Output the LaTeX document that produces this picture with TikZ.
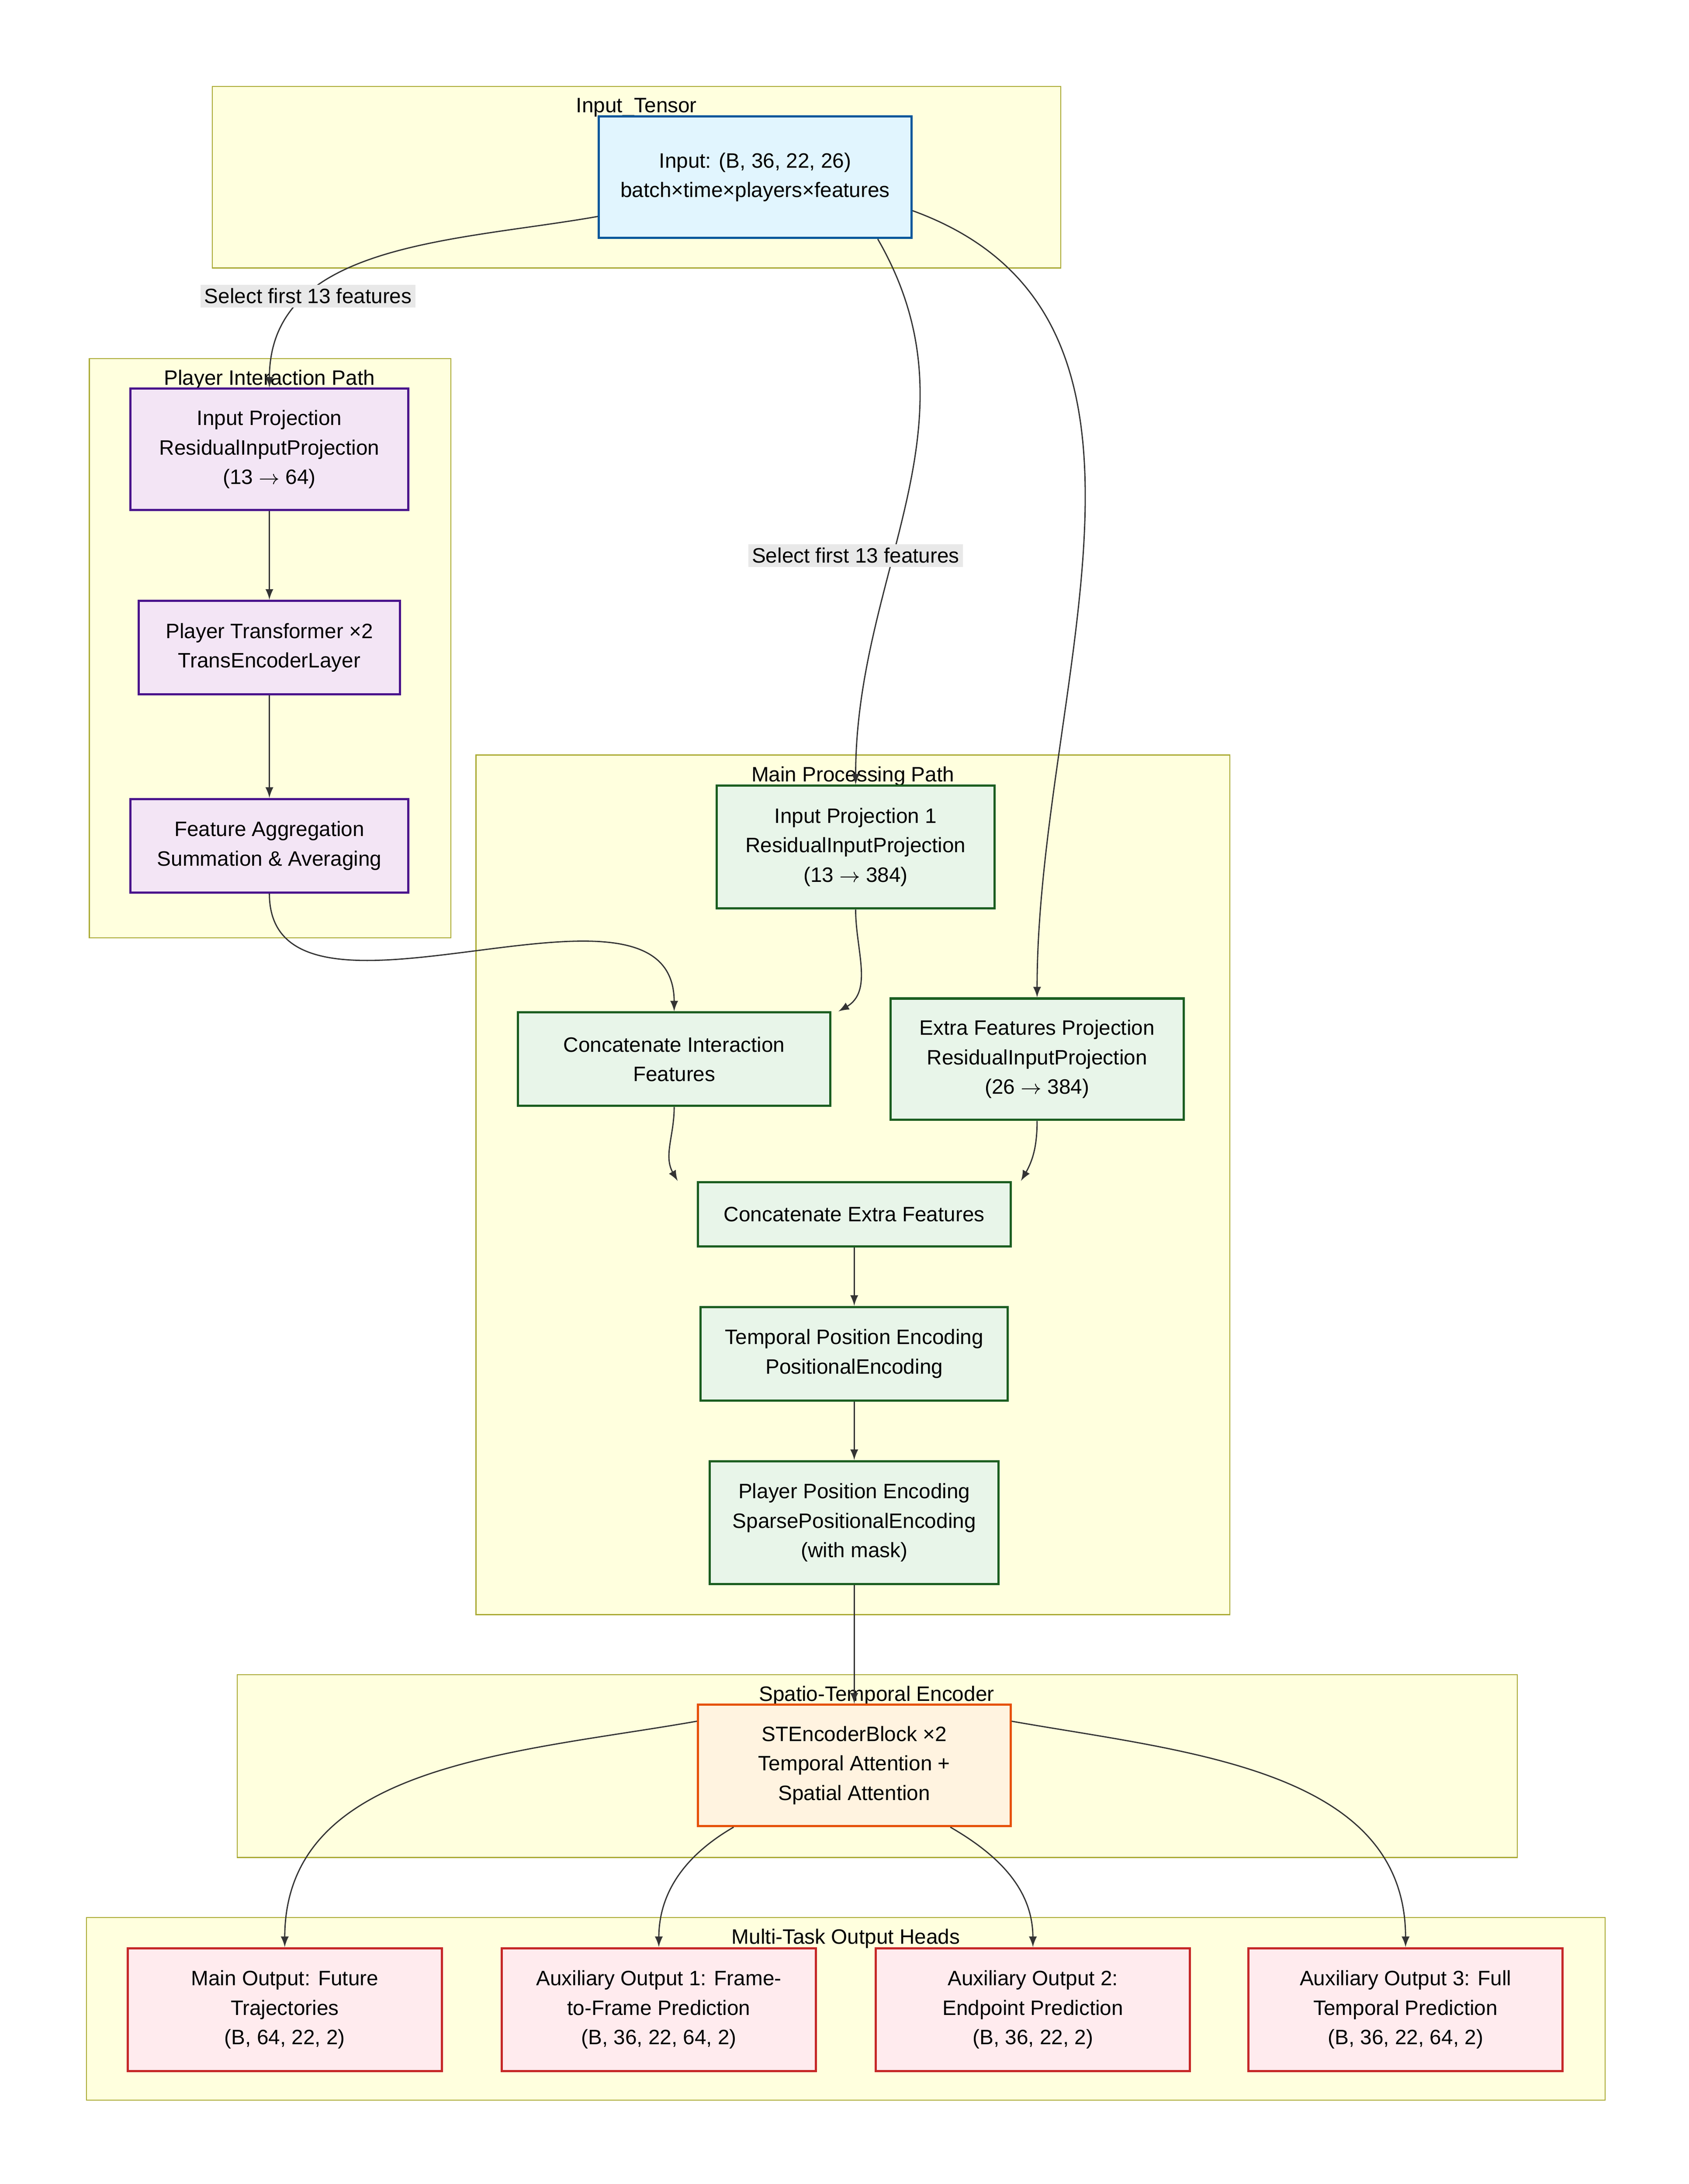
\documentclass[tikz,border=0pt]{standalone}
\usepackage{fontspec}
\setmainfont{Liberation Sans}
\usetikzlibrary{positioning}
\definecolor{clfill}{HTML}{FFFFDE}
\definecolor{cldraw}{HTML}{AAAA33}
\definecolor{inpfill}{HTML}{E1F5FE}
\definecolor{inpdraw}{HTML}{01579B}
\definecolor{plyfill}{HTML}{F3E5F5}
\definecolor{plydraw}{HTML}{4A148C}
\definecolor{mainfill}{HTML}{E8F5E9}
\definecolor{maindraw}{HTML}{1B5E20}
\definecolor{encfill}{HTML}{FFF3E0}
\definecolor{encdraw}{HTML}{E65100}
\definecolor{outfill}{HTML}{FFEBEE}
\definecolor{outdraw}{HTML}{C62828}
\definecolor{edge}{HTML}{333333}
\begin{document}
\begin{tikzpicture}[x=0.02cm,y=-0.02cm,>=latex,font=\fontsize{8.5}{12}\selectfont]
    \tikzstyle{cluster}=[draw=cldraw,fill=clfill,line width=0.4pt]
    \tikzstyle{box}=[rectangle,align=center,line width=0.9pt,inner sep=2pt]
    \tikzstyle{inp}=[box,fill=inpfill,draw=inpdraw]
    \tikzstyle{ply}=[box,fill=plyfill,draw=plydraw]
    \tikzstyle{mainp}=[box,fill=mainfill,draw=maindraw]
    \tikzstyle{enc}=[box,fill=encfill,draw=encdraw]
    \tikzstyle{head}=[box,fill=outfill,draw=outdraw,minimum width=4.5cm,minimum height=1.76cm]
    \tikzstyle{lbl}=[fill=gray!18,inner sep=1.5pt]
    \tikzstyle{conn}=[->,draw=edge,line width=0.5pt]
    \useasboundingbox (0,0) rectangle (1210,1565);

    % Clusters
    \draw[cluster] (152,62) rectangle (760,192);
    \node[anchor=north] (cinp) at (456,64) {Input\_Tensor};
    \draw[cluster] (64,257) rectangle (323,672);
    \node[anchor=north] (cply) at (193,259) {Player Interaction Path};
    \draw[cluster] (341,541) rectangle (881,1157);
    \node[anchor=north] (cmain) at (611,543) {Main Processing Path};
    \draw[cluster] (170,1200) rectangle (1087,1331);
    \node[anchor=north] (cenc) at (628,1202) {Spatio-Temporal Encoder};
    \draw[cluster] (62,1374) rectangle (1150,1505);
    \node[anchor=north] (cout) at (606,1376) {Multi-Task Output Heads};

    % Input
    \node[inp,minimum width=4.48cm,minimum height=1.74cm] (input) at (541,127) {Input: (B, 36, 22, 26)\\batch×time×players×features};

    % Player interaction path
    \node[ply,minimum width=3.98cm,minimum height=1.74cm] (pproj) at (193,322) {Input Projection\\ResidualInputProjection\\(13 $\rightarrow$ 64)};
    \node[ply,minimum width=3.74cm,minimum height=1.34cm] (ptrans) at (193,464) {Player Transformer ×2\\TransEncoderLayer};
    \node[ply,minimum width=3.98cm,minimum height=1.34cm] (pagg) at (193,606) {Feature Aggregation\\Summation \& Averaging};

    % Main processing path
    \node[mainp,minimum width=3.98cm,minimum height=1.76cm] (mproj) at (613,607) {Input Projection 1\\ResidualInputProjection\\(13 $\rightarrow$ 384)};
    \node[mainp,minimum width=4.48cm,minimum height=1.34cm] (catint) at (483,759) {Concatenate Interaction\\Features};
    \node[mainp,minimum width=4.2cm,minimum height=1.74cm] (xproj) at (743,759) {Extra Features Projection\\ResidualInputProjection\\(26 $\rightarrow$ 384)};
    \node[mainp,minimum width=4.48cm,minimum height=0.92cm] (catext) at (612,870) {Concatenate Extra Features};
    \node[mainp,minimum width=4.4cm,minimum height=1.34cm] (tpos) at (612,970) {Temporal Position Encoding\\PositionalEncoding};
    \node[mainp,minimum width=4.14cm,minimum height=1.76cm] (ppos) at (612,1091) {Player Position Encoding\\SparsePositionalEncoding\\(with mask)};

    % Encoder
    \node[enc,minimum width=4.48cm,minimum height=1.74cm] (stenc) at (612,1265) {STEncoderBlock ×2\\Temporal Attention +\\Spatial Attention};

    % Outputs
    \node[head] (omain) at (204,1440) {Main Output: Future\\Trajectories\\(B, 64, 22, 2)};
    \node[head] (oaux1) at (472,1440) {Auxiliary Output 1: Frame-\\to-Frame Prediction\\(B, 36, 22, 64, 2)};
    \node[head] (oaux2) at (740,1440) {Auxiliary Output 2:\\Endpoint Prediction\\(B, 36, 22, 2)};
    \node[head] (oaux3) at (1007,1440) {Auxiliary Output 3: Full\\Temporal Prediction\\(B, 36, 22, 64, 2)};

    % Connectors
    \draw[conn] (input.194) to[out=190,in=90] node[lbl,pos=0.72] {Select first 13 features} (pproj.north);
    \draw[conn] ([xshift=50]input.south) to[out=-60,in=90] (mproj.north);
    \draw[conn] (input.-12) to[out=-20,in=90] (xproj.north);
    \node[lbl] (sel2) at (613,398) {Select first 13 features};
    \draw[conn] (pproj) -- (ptrans);
    \draw[conn] (ptrans) -- (pagg);
    \draw[conn] (pagg.south) to[out=-90,in=90] (catint.north);
    \draw[conn] (mproj.south) to[out=-90,in=30] ([xshift=67]catint.north);
    \draw[conn] (catint.south) to[out=-90,in=120] ([xshift=-72]catext.north);
    \draw[conn] (xproj.south) to[out=-90,in=60] ([xshift=68]catext.north);
    \draw[conn] (catext) -- (tpos);
    \draw[conn] (tpos) -- (ppos);
    \draw[conn] (ppos) -- (stenc);
    \draw[conn] ([yshift=18]stenc.west) to[out=190,in=90] (omain.north);
    \draw[conn] ([xshift=15]stenc.south west) to[out=210,in=90] (oaux1.north);
    \draw[conn] ([xshift=-25]stenc.south east) to[out=-30,in=90] (oaux2.north);
    \draw[conn] ([yshift=18]stenc.east) to[out=-10,in=90] (oaux3.north);
\end{tikzpicture}
\end{document}
